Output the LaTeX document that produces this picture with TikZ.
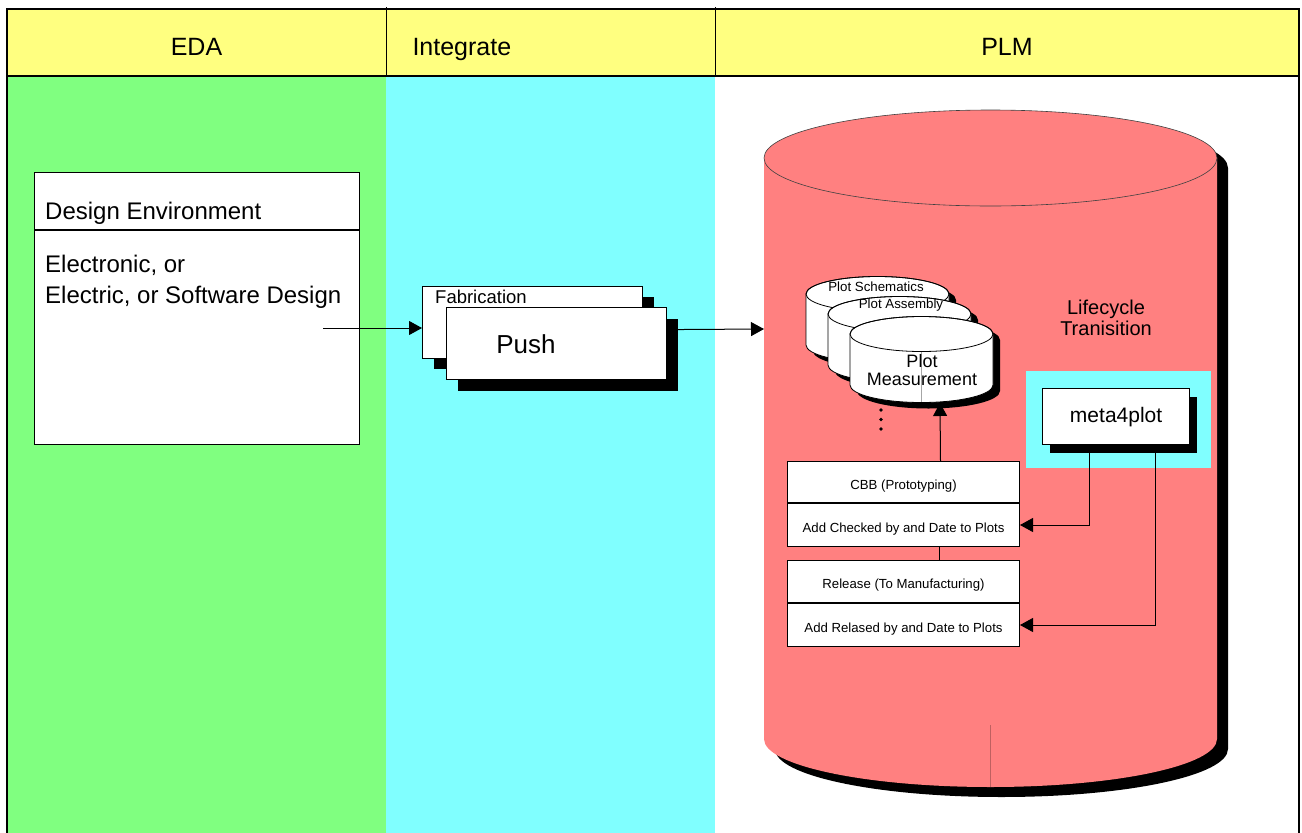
\documentclass[tikz,border=0pt]{standalone}
\usepackage{fontspec}
\setmainfont{Liberation Sans}
\usetikzlibrary{positioning,arrows.meta,shadows}
\definecolor{edagreen}{HTML}{80FF80}
\definecolor{intcyan}{HTML}{80FFFF}
\definecolor{headyellow}{HTML}{FFFF80}
\definecolor{plmred}{HTML}{FF8080}
\tikzstyle{heading} = [
font=\fontsize{25}{30}\selectfont,
anchor=base
]
\tikzstyle{panel} = [
rectangle,
draw=black,
line width=1.2pt,
fill=white,
anchor=north west,
inner sep=0pt
]
\tikzstyle{stepbox} = [
rectangle,
draw=black,
line width=1pt,
fill=white,
minimum width=232pt,
text height=14pt,
text depth=0pt,
text centered,
inner sep=0pt,
font=\fontsize{13.2}{15}\selectfont
]
\tikzstyle{arrow} = [
line width=1pt,
-{Triangle[length=13pt,width=14pt]}
]

\begin{document}
\begin{tikzpicture}[x=1pt,y=-1pt]
\useasboundingbox (0,0) rectangle (1302,833);
%Lanes
\fill[edagreen] (7,76) rectangle (386,840);
\fill[intcyan] (386,76) rectangle (715,840);
\fill[headyellow] (7,9) rectangle (1299,76);
\draw[line width=1.5pt] (7,840) -- (7,9) -- (1299,9) -- (1299,840);
\draw[line width=1.5pt] (7,76) -- (1299,76);
\draw[line width=0.8pt] (386,7) -- (386,76);
\draw[line width=0.8pt] (715,7) -- (715,76);
\node[heading] (eda) at (196.5,55) {EDA};
\node[heading,anchor=base west] (integrate) at (409,55) {Integrate};
\node[heading] (plm) at (1007,55) {PLM};
%Design environment
\node[panel,minimum width=325pt,minimum height=57pt] (envtitle) at (34,172) {};
\node[panel,minimum width=325pt,minimum height=214pt,below=0pt of envtitle] (envbody) {};
\node[anchor=base west,inner sep=0pt,font=\fontsize{24}{31}\selectfont] (envlabel) at (45,219) {Design Environment};
\node[anchor=north west,inner sep=0pt,align=left,font=\fontsize{24}{31}\selectfont] (envtext) at (45,254.8) {Electronic, or\\Electric, or Software Design};
\coordinate (envout) at (323,328);
%Fabrication
\node[panel,general shadow={fill=black,shadow xshift=11pt,shadow yshift=-10pt},minimum width=220pt,minimum height=72pt] (fabback) at (422,286) {};
\node[anchor=base west,inner sep=0pt,font=\fontsize{18.5}{22}\selectfont] (fablabel) at (435,303) {Fabrication};
\node[panel,general shadow={fill=black,shadow xshift=11pt,shadow yshift=-11pt},minimum width=220pt,minimum height=72pt] (push) at (446,307) {};
\node[anchor=base,inner sep=0pt,font=\fontsize{26}{30}\selectfont] (pushlabel) at (526,353) {Push};
%PLM cylinder
\fill[black,xshift=11pt,yshift=-10pt] (764,158) -- (764,739) arc[start angle=180,end angle=0,x radius=226.5,y radius=48] -- (1217,158) arc[start angle=0,end angle=-180,x radius=226.5,y radius=48] -- cycle;
\fill[plmred] (764,158) -- (764,739) arc[start angle=180,end angle=0,x radius=226.5,y radius=48] -- (1217,158) arc[start angle=0,end angle=-180,x radius=226.5,y radius=48] -- cycle;
\draw[line width=0.6pt,black!75] (990.5,158) ellipse [x radius=226.5,y radius=48];
\draw[line width=0.5pt,plmred!75!black] (990.5,725) -- (990.5,787);
\coordinate (plmin) at (764,329);
%Plot stores
\foreach \cx/\cy in {877.5/294,899.5/314,921.5/334} {
\fill[black,xshift=7pt,yshift=-6pt] (\cx-71.5,\cy) -- ++(0,51) arc[start angle=180,end angle=0,x radius=71.5,y radius=17.5] -- ++(0,-51) arc[start angle=0,end angle=-180,x radius=71.5,y radius=17.5] -- cycle;
\filldraw[fill=white,line width=0.8pt] (\cx-71.5,\cy) -- ++(0,51) arc[start angle=180,end angle=0,x radius=71.5,y radius=17.5] -- ++(0,-51) arc[start angle=0,end angle=-180,x radius=71.5,y radius=17.5] -- cycle;
\draw[line width=0.8pt] (\cx,\cy) ellipse [x radius=71.5,y radius=17.5];
}
\draw[line width=0.4pt,black!35] (921.5,352) -- (921.5,402);
\node[anchor=base,inner sep=0pt,font=\fontsize{13.3}{16}\selectfont] (schemlabel) at (876,291) {Plot Schematics};
\node[anchor=base,inner sep=0pt,font=\fontsize{13.3}{16}\selectfont] (asmlabel) at (901,308) {Plot Assembly};
\node[anchor=north,inner sep=0pt,align=center,font=\fontsize{18}{18}\selectfont] (measlabel) at (922,354.1) {Plot\\Measurement};
\coordinate (measbot) at (940,403);
\fill (881,410) circle (1.8) (881,419.5) circle (1.8) (881,429) circle (1.8);
%Lifecycle
\node[anchor=north,inner sep=0pt,align=center,font=\fontsize{20}{21}\selectfont] (lifelabel) at (1106,299.7) {Lifecycle\\Tranisition};
\node[fill=intcyan,anchor=north west,inner sep=0pt,minimum width=185pt,minimum height=97pt] (metabg) at (1026,371) {};
\node[panel,general shadow={fill=black,shadow xshift=7pt,shadow yshift=-8pt},minimum width=147pt,minimum height=56pt,font=\fontsize{21}{25}\selectfont] (meta) at (1042,388) {meta4plot};
%Steps
\node[stepbox,minimum height=41pt,anchor=north west] (cbbhead) at (787,461) {CBB (Prototyping)};
\node[stepbox,minimum height=43pt,below=0pt of cbbhead] (cbbadd) {Add Checked by and Date to Plots};
\node[stepbox,minimum height=42pt,below=13pt of cbbadd] (relhead) {Release (To Manufacturing)};
\node[stepbox,minimum height=43pt,below=0pt of relhead] (reladd) {Add Relased by and Date to Plots};
%Arrows
\draw[arrow] (envout) -- (envout -| fabback.west);
\draw[arrow] ([yshift=14pt]push.east) -- (plmin);
\draw[line width=1pt] ([xshift=36pt]cbbadd.south) -- ([xshift=36pt]relhead.north);
\draw[arrow] ([xshift=37pt]cbbhead.north) -- (measbot);
\draw[arrow] ([xshift=-26.5pt]meta.south) |- (cbbadd.east);
\draw[arrow] ([xshift=39.5pt]meta.south) |- (reladd.east);
\end{tikzpicture}
\end{document}
